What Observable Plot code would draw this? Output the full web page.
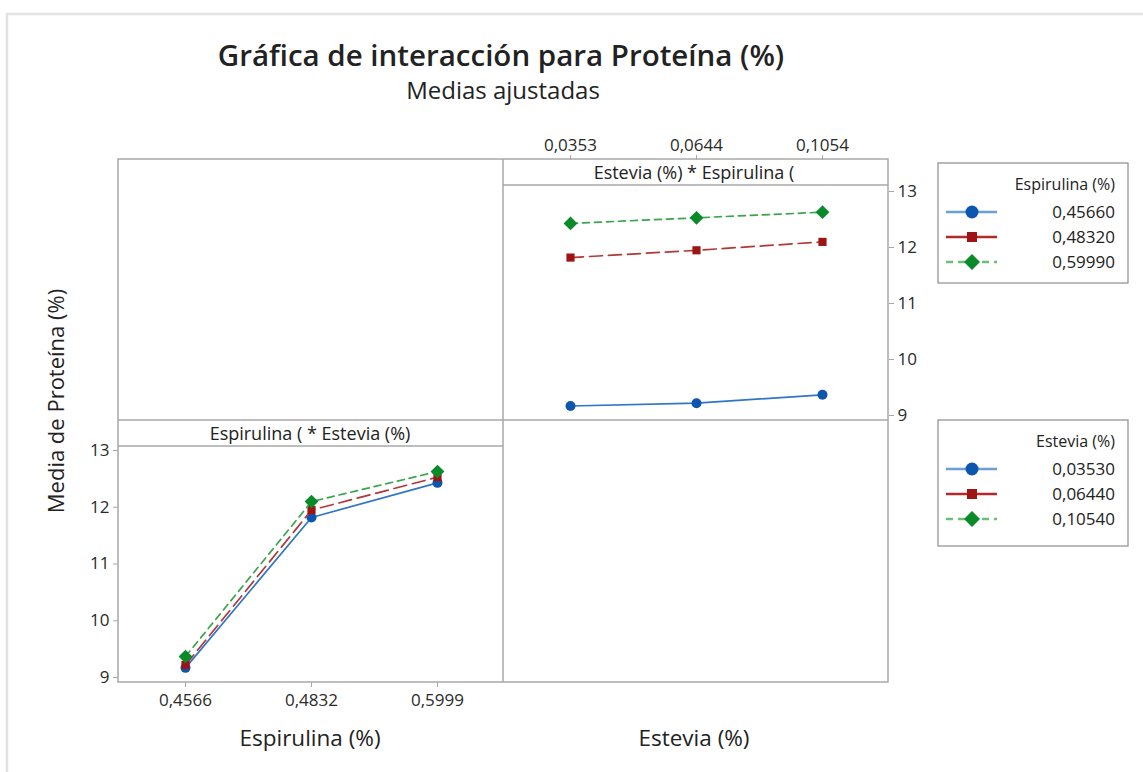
<!DOCTYPE html>
<html>
<head>
<meta charset="utf-8">
<script src="https://cdn.jsdelivr.net/npm/d3@7"></script>
<script src="https://cdn.jsdelivr.net/npm/@observablehq/plot@0.6"></script>
<style>
  html, body { margin: 0; padding: 0; background: #fff; }
  body { font-family: "Open Sans", "Noto Sans", sans-serif; color: #222; }
  #fig { position: relative; width: 1143px; height: 772px; overflow: hidden; }
  .txt { position: absolute; white-space: nowrap; transform: translate(-50%, -50%); }
  #fig svg g[aria-label$="-axis tick"] { stroke: #a8a8a8; }
  #fig svg g[aria-label$="-axis tick label"] { fill: #2a2a2a; font-size: 17px; }
</style>
</head>
<body>
<div id="fig"></div>
<script>
// ---- Data (adjusted means of Proteína (%)) ----
const espirulina = ["0,4566", "0,4832", "0,5999"];       // factor levels (tick labels)
const estevia = ["0,0353", "0,0644", "0,1054"];          // factor levels (tick labels)
const espirulinaLegend = ["0,45660", "0,48320", "0,59990"];
const esteviaLegend = ["0,03530", "0,06440", "0,10540"];
// cell means, one array per Espirulina level, across Estevia levels
const meansEsp4566 = [9.17, 9.22, 9.37];
const meansEsp4832 = [11.82, 11.95, 12.10];
const meansEsp5999 = [12.43, 12.53, 12.63];
const yTicks = [9, 10, 11, 12, 13];

// series styles
const lineColors = ["#2f76c8", "#b23838", "#3aa54c"];
const legendLineColors = ["#6a9fd8", "#b22a2a", "#6cbf78"];
const markColors = ["#0c56ad", "#9e1313", "#0b8a2a"];
const dashes = [null, "13,6", "7,5"];
const symbols = ["circle", "square", "diamond2"];
const sizes = [5, 4.6, 6.2];

const meanRows = [meansEsp4566, meansEsp4832, meansEsp5999];
const table = [];
espirulina.forEach((e, i) => estevia.forEach((s, j) => table.push({esp: e, est: s, mean: meanRows[i][j]})));

const fig = document.getElementById("fig");
const FONT = '"Open Sans", "Noto Sans", sans-serif';

function seriesMarks(xKey, zKey, groups) {
  const marks = [];
  groups.forEach((g, i) => {
    const d = table.filter(r => r[zKey] === g);
    marks.push(Plot.line(d, {x: xKey, y: "mean", stroke: lineColors[i], strokeWidth: 1.7, strokeDasharray: dashes[i]}));
    marks.push(Plot.dot(d, {x: xKey, y: "mean", fill: markColors[i], stroke: "none", symbol: symbols[i], r: sizes[i]}));
  });
  return marks;
}

// ---- Top-right panel: x = Estevia, series = Espirulina ----
const p1 = Plot.plot({
  width: 435, height: 300,
  marginTop: 39, marginBottom: 0, marginLeft: 0, marginRight: 50,
  style: {fontFamily: FONT, fontSize: "17px", background: "transparent", overflow: "visible"},
  x: {type: "point", domain: estevia, padding: 0.52},
  y: {domain: [8.911, 13.571]},
  marks: [
    Plot.axisX({anchor: "top", tickSize: 5, tickPadding: 4, label: null}),
    Plot.axisY({anchor: "right", ticks: yTicks, tickSize: 5, tickPadding: 4, label: null, tickFormat: d => String(d)}),
    ...seriesMarks("est", "esp", espirulina)
  ]
});
p1.style.position = "absolute"; p1.style.left = "503px"; p1.style.top = "120px";

// ---- Bottom-left panel: x = Espirulina, series = Estevia ----
const p2 = Plot.plot({
  width: 443, height: 302,
  marginTop: 0, marginBottom: 40, marginLeft: 58, marginRight: 0,
  style: {fontFamily: FONT, fontSize: "17px", background: "transparent", overflow: "visible"},
  x: {type: "point", domain: espirulina, padding: 0.52},
  y: {domain: [8.912, 13.529]},
  marks: [
    Plot.axisX({anchor: "bottom", tickSize: 5, tickPadding: 6, label: null}),
    Plot.axisY({anchor: "left", ticks: yTicks, tickSize: 5, tickPadding: 4, label: null, tickFormat: d => String(d)}),
    ...seriesMarks("esp", "est", estevia)
  ]
});
p2.style.position = "absolute"; p2.style.left = "60px"; p2.style.top = "420px";

// ---- Decorations: frames, strips, legends ----
const ns = "http://www.w3.org/2000/svg";
const deco = document.createElementNS(ns, "svg");
deco.setAttribute("width", 1143); deco.setAttribute("height", 772);
deco.style.position = "absolute"; deco.style.left = "0"; deco.style.top = "0";
function el(tag, attrs, text) {
  const e = document.createElementNS(ns, tag);
  for (const k in attrs) if (attrs[k] != null) e.setAttribute(k, attrs[k]);
  if (text != null) e.textContent = text;
  deco.appendChild(e);
  return e;
}
const G = "#a9a9a9";
// outer light frame
el("path", {d: "M7,772 V14 H1143", fill: "none", stroke: "#e2e2e2", "stroke-width": 2.5});
// panel grid
el("rect", {x: 118, y: 159, width: 770, height: 523, fill: "none", stroke: G, "stroke-width": 1.5});
el("line", {x1: 503, y1: 159, x2: 503, y2: 682, stroke: G, "stroke-width": 1.5});
el("line", {x1: 118, y1: 420, x2: 888, y2: 420, stroke: G, "stroke-width": 1.5});
// strips
el("line", {x1: 503, y1: 185, x2: 888, y2: 185, stroke: G, "stroke-width": 1.5});
el("line", {x1: 118, y1: 446, x2: 503, y2: 446, stroke: G, "stroke-width": 1.5});
el("text", {x: 694, y: 178.5, "text-anchor": "middle", "font-family": FONT, "font-size": 18, "font-weight": 500, fill: "#222"}, "Estevia (%) * Espirulina (");
el("text", {x: 310, y: 439.5, "text-anchor": "middle", "font-family": FONT, "font-size": 18, "font-weight": 500, fill: "#222"}, "Espirulina ( * Estevia (%)");

// legends
function legend(y0, h, title, labels) {
  el("rect", {x: 938, y: y0, width: 190, height: h, fill: "#fff", stroke: "#8c8c8c", "stroke-width": 1.2});
  el("text", {x: 1115, y: y0 + 27, "text-anchor": "end", "font-family": FONT, "font-size": 16, fill: "#222"}, title);
  labels.forEach((lab, i) => {
    const yy = y0 + 49 + i * 25;
    el("line", {x1: 946, y1: yy, x2: 997, y2: yy, stroke: legendLineColors[i], "stroke-width": 2.4, "stroke-dasharray": i === 2 ? "7,5" : null});
    const cx = 972;
    if (symbols[i] === "circle") el("circle", {cx, cy: yy, r: 6.5, fill: markColors[i]});
    else if (symbols[i] === "square") el("rect", {x: cx - 5, y: yy - 5, width: 10, height: 10, fill: markColors[i]});
    else el("path", {d: `M${cx},${yy - 8} L${cx + 8},${yy} L${cx},${yy + 8} L${cx - 8},${yy} Z`, fill: markColors[i]});
    el("text", {x: 1115, y: yy + 6, "text-anchor": "end", "font-family": FONT, "font-size": 17, fill: "#222"}, lab);
  });
}
legend(163, 120, "Espirulina (%)", espirulinaLegend);
legend(420, 126, "Estevia (%)", esteviaLegend);

fig.appendChild(deco);
fig.appendChild(p1);
fig.appendChild(p2);

// titles
function addText(str, x, y, size, weight, rotate) {
  const d = document.createElement("div");
  d.className = "txt";
  d.textContent = str;
  d.style.left = x + "px"; d.style.top = y + "px";
  d.style.fontSize = size + "px"; d.style.fontWeight = weight || 400;
  if (rotate) d.style.transform = "translate(-50%, -50%) rotate(-90deg)";
  fig.appendChild(d);
}
addText("Gráfica de interacción para Proteína (%)", 501, 54, 29.5, 600);
addText("Medias ajustadas", 503, 89, 24, 500);
addText("Espirulina (%)", 310, 737, 22.5, 500);
addText("Estevia (%)", 694, 737, 22.5, 500);
addText("Media de Proteína (%)", 55, 401, 22, 500, true);
</script>
</body>
</html>
